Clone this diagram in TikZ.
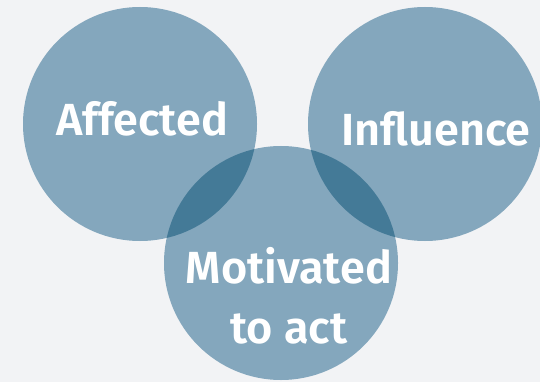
\documentclass[tikz,border=0pt]{standalone}
\usepackage{fontspec}
\setsansfont{Fira Sans}[BoldFont={Fira Sans SemiBold}]
\usetikzlibrary{positioning}

\definecolor{bgGrey}{HTML}{F2F3F5}
\definecolor{blobBlue}{HTML}{84A7BD}
\definecolor{blobDark}{HTML}{447A97}

\begin{document}
\begin{tikzpicture}[
    x=1pt, y=-1pt,
    font=\sffamily\bfseries\fontsize{45}{60}\selectfont,
    blob/.style ={circle,fill=blobBlue,inner sep=0pt,minimum size=234pt},
    word/.style ={text=white,align=center,inner sep=0pt},
]

% ---------- Parameters ----------
\def\R{117pt}   % circle radius

% ---------- Background ----------
\fill[bgGrey] (0,0) rectangle (540,382);
\useasboundingbox (0,0) rectangle (540,382);

% ---------- The three circles ----------
\node[blob] (AFF) at (140,124) {};
\node[blob] (INF) at (425,124) {};
\node[blob] (MOT) at (281,263) {};

% darker lens where two circles meet
\begin{scope}
  \clip (MOT.center) circle (\R);
  \fill[blobDark] (AFF.center) circle (\R);
  \fill[blobDark] (INF.center) circle (\R);
\end{scope}

% ---------- Labels ----------
\node[word] (affTxt) at (142,119) {Affected};
\node[word] (infTxt) at (436,129) {Influence};
\node[word] (motTxt) at (289,296) {Motivated\\to act};

\end{tikzpicture}
\end{document}
